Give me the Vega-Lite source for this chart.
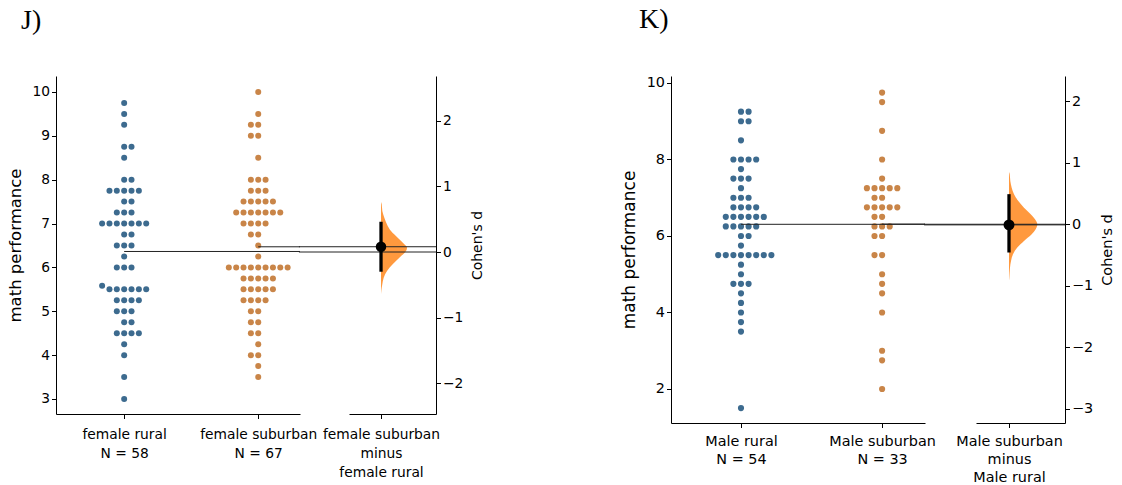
{
  "$schema": "https://vega.github.io/schema/vega-lite/v6.json",
  "padding": {"left": 7, "top": 5, "right": 0, "bottom": 0},
  "background": "white",
  "config": {
    "font": "DejaVu Sans",
    "view": {"stroke": null},
    "axis": {"grid": false, "domainColor": "#000", "tickColor": "#000", "labelColor": "#000", "titleColor": "#000", "labelFont": "DejaVu Sans", "titleFont": "DejaVu Sans", "titleFontWeight": "normal", "labelFontSize": 13.8, "titleFontSize": 16.5, "tickSize": 4.5, "domainWidth": 1, "tickWidth": 1},
    "title": {"font": "Liberation Serif", "fontSize": 28, "fontWeight": "normal", "anchor": "start", "frame": "group", "color": "#000"}
  },
  "datasets": {
    "jswarm": [
      {"g":"female rural","v":9.75},{"g":"female rural","v":9.5},{"g":"female rural","v":9.25},{"g":"female rural","v":8.75},{"g":"female rural","v":8.75},{"g":"female rural","v":8.5},{"g":"female rural","v":8},{"g":"female rural","v":8},
      {"g":"female rural","v":7.75},{"g":"female rural","v":7.75},{"g":"female rural","v":7.75},{"g":"female rural","v":7.75},{"g":"female rural","v":7.75},
      {"g":"female rural","v":7.5},{"g":"female rural","v":7.5},{"g":"female rural","v":7.25},{"g":"female rural","v":7.25},{"g":"female rural","v":7.25},
      {"g":"female rural","v":7},{"g":"female rural","v":7},{"g":"female rural","v":7},{"g":"female rural","v":7},{"g":"female rural","v":7},{"g":"female rural","v":7},{"g":"female rural","v":7},
      {"g":"female rural","v":6.75},{"g":"female rural","v":6.75},{"g":"female rural","v":6.5},{"g":"female rural","v":6.5},{"g":"female rural","v":6.5},{"g":"female rural","v":6.25},
      {"g":"female rural","v":6},{"g":"female rural","v":6},{"g":"female rural","v":6},{"g":"female rural","v":5.58},
      {"g":"female rural","v":5.5},{"g":"female rural","v":5.5},{"g":"female rural","v":5.5},{"g":"female rural","v":5.5},{"g":"female rural","v":5.5},{"g":"female rural","v":5.5},
      {"g":"female rural","v":5.25},{"g":"female rural","v":5.25},{"g":"female rural","v":5.25},{"g":"female rural","v":5.25},
      {"g":"female rural","v":5},{"g":"female rural","v":5},{"g":"female rural","v":5},{"g":"female rural","v":4.75},{"g":"female rural","v":4.75},
      {"g":"female rural","v":4.5},{"g":"female rural","v":4.5},{"g":"female rural","v":4.5},{"g":"female rural","v":4.5},
      {"g":"female rural","v":4.25},{"g":"female rural","v":4},{"g":"female rural","v":3.5},{"g":"female rural","v":3},
      {"g":"female suburban","v":10},{"g":"female suburban","v":9.5},{"g":"female suburban","v":9.25},{"g":"female suburban","v":9.25},{"g":"female suburban","v":9},{"g":"female suburban","v":9},{"g":"female suburban","v":8.5},
      {"g":"female suburban","v":8},{"g":"female suburban","v":8},{"g":"female suburban","v":8},{"g":"female suburban","v":7.75},{"g":"female suburban","v":7.75},{"g":"female suburban","v":7.75},
      {"g":"female suburban","v":7.5},{"g":"female suburban","v":7.5},{"g":"female suburban","v":7.5},{"g":"female suburban","v":7.5},{"g":"female suburban","v":7.5},
      {"g":"female suburban","v":7.25},{"g":"female suburban","v":7.25},{"g":"female suburban","v":7.25},{"g":"female suburban","v":7.25},{"g":"female suburban","v":7.25},{"g":"female suburban","v":7.25},{"g":"female suburban","v":7.25},
      {"g":"female suburban","v":7},{"g":"female suburban","v":7},{"g":"female suburban","v":7},{"g":"female suburban","v":7},
      {"g":"female suburban","v":6.75},{"g":"female suburban","v":6.75},{"g":"female suburban","v":6.5},{"g":"female suburban","v":6.25},
      {"g":"female suburban","v":6},{"g":"female suburban","v":6},{"g":"female suburban","v":6},{"g":"female suburban","v":6},{"g":"female suburban","v":6},{"g":"female suburban","v":6},{"g":"female suburban","v":6},{"g":"female suburban","v":6},{"g":"female suburban","v":6},
      {"g":"female suburban","v":5.75},{"g":"female suburban","v":5.75},{"g":"female suburban","v":5.75},{"g":"female suburban","v":5.75},{"g":"female suburban","v":5.75},
      {"g":"female suburban","v":5.5},{"g":"female suburban","v":5.5},{"g":"female suburban","v":5.5},{"g":"female suburban","v":5.5},{"g":"female suburban","v":5.5},
      {"g":"female suburban","v":5.25},{"g":"female suburban","v":5.25},{"g":"female suburban","v":5.25},{"g":"female suburban","v":5.25},
      {"g":"female suburban","v":5},{"g":"female suburban","v":5},{"g":"female suburban","v":4.75},{"g":"female suburban","v":4.75},{"g":"female suburban","v":4.5},{"g":"female suburban","v":4.5},
      {"g":"female suburban","v":4.25},{"g":"female suburban","v":4},{"g":"female suburban","v":4},{"g":"female suburban","v":3.75},{"g":"female suburban","v":3.5}
    ],
    "kswarm": [
      {"g":"Male rural","v":9.25},{"g":"Male rural","v":9.25},{"g":"Male rural","v":9},{"g":"Male rural","v":9},{"g":"Male rural","v":8.5},
      {"g":"Male rural","v":8},{"g":"Male rural","v":8},{"g":"Male rural","v":8},{"g":"Male rural","v":8},{"g":"Male rural","v":7.75},
      {"g":"Male rural","v":7.5},{"g":"Male rural","v":7.5},{"g":"Male rural","v":7.5},{"g":"Male rural","v":7.25},
      {"g":"Male rural","v":7},{"g":"Male rural","v":7},{"g":"Male rural","v":7},
      {"g":"Male rural","v":6.75},{"g":"Male rural","v":6.75},{"g":"Male rural","v":6.75},{"g":"Male rural","v":6.75},
      {"g":"Male rural","v":6.5},{"g":"Male rural","v":6.5},{"g":"Male rural","v":6.5},{"g":"Male rural","v":6.5},{"g":"Male rural","v":6.5},{"g":"Male rural","v":6.5},
      {"g":"Male rural","v":6.25},{"g":"Male rural","v":6.25},{"g":"Male rural","v":6.25},{"g":"Male rural","v":6.25},{"g":"Male rural","v":6.25},
      {"g":"Male rural","v":6},{"g":"Male rural","v":6},{"g":"Male rural","v":5.75},
      {"g":"Male rural","v":5.5},{"g":"Male rural","v":5.5},{"g":"Male rural","v":5.5},{"g":"Male rural","v":5.5},{"g":"Male rural","v":5.5},{"g":"Male rural","v":5.5},{"g":"Male rural","v":5.5},{"g":"Male rural","v":5.5},
      {"g":"Male rural","v":5.25},{"g":"Male rural","v":5},{"g":"Male rural","v":4.75},{"g":"Male rural","v":4.75},{"g":"Male rural","v":4.75},
      {"g":"Male rural","v":4.5},{"g":"Male rural","v":4.25},{"g":"Male rural","v":4},{"g":"Male rural","v":3.75},{"g":"Male rural","v":3.5},{"g":"Male rural","v":1.5},
      {"g":"Male suburban","v":9.75},{"g":"Male suburban","v":9.5},{"g":"Male suburban","v":8.75},{"g":"Male suburban","v":8},{"g":"Male suburban","v":7.5},
      {"g":"Male suburban","v":7.25},{"g":"Male suburban","v":7.25},{"g":"Male suburban","v":7.25},{"g":"Male suburban","v":7.25},{"g":"Male suburban","v":7.25},
      {"g":"Male suburban","v":7},{"g":"Male suburban","v":7},
      {"g":"Male suburban","v":6.75},{"g":"Male suburban","v":6.75},{"g":"Male suburban","v":6.75},{"g":"Male suburban","v":6.75},{"g":"Male suburban","v":6.75},
      {"g":"Male suburban","v":6.5},{"g":"Male suburban","v":6.5},{"g":"Male suburban","v":6.25},{"g":"Male suburban","v":6.25},{"g":"Male suburban","v":6.25},
      {"g":"Male suburban","v":6},{"g":"Male suburban","v":6},{"g":"Male suburban","v":5.5},{"g":"Male suburban","v":5.5},
      {"g":"Male suburban","v":5},{"g":"Male suburban","v":4.75},{"g":"Male suburban","v":4.5},{"g":"Male suburban","v":4},{"g":"Male suburban","v":3},{"g":"Male suburban","v":2.75},{"g":"Male suburban","v":2}
    ],
    "jviolin": [
      {"d":0.76,"w":0},{"d":0.725,"w":0.025},{"d":0.624,"w":0.046},{"d":0.522,"w":0.117},{"d":0.42,"w":0.212},{"d":0.32,"w":0.353},{"d":0.218,"w":0.59},{"d":0.117,"w":0.823},{"d":0.066,"w":0.919},{"d":0.015,"w":0.883},{"d":-0.087,"w":0.647},{"d":-0.187,"w":0.413},{"d":-0.289,"w":0.212},{"d":-0.39,"w":0.095},{"d":-0.49,"w":0.046},{"d":-0.59,"w":0.011},{"d":-0.64,"w":0}
    ],
    "kviolin": [
      {"d":0.85,"w":0},{"d":0.814,"w":0.025},{"d":0.705,"w":0.046},{"d":0.596,"w":0.095},{"d":0.489,"w":0.177},{"d":0.379,"w":0.329},{"d":0.27,"w":0.53},{"d":0.163,"w":0.767},{"d":0.081,"w":0.919},{"d":0,"w":1},{"d":-0.081,"w":0.943},{"d":-0.163,"w":0.802},{"d":-0.272,"w":0.53},{"d":-0.38,"w":0.293},{"d":-0.489,"w":0.141},{"d":-0.598,"w":0.071},{"d":-0.707,"w":0.035},{"d":-0.87,"w":0.011},{"d":-0.92,"w":0}
    ],
    "jeffect": [{"d":0.08,"lo":-0.3,"hi":0.46}],
    "keffect": [{"d":-0.01,"lo":-0.46,"hi":0.49}]
  },
  "hconcat": [
    {
      "title": {"text": "J)", "dx": -35, "offset": 41},
      "spacing": 49,
      "bounds": "flush",
      "hconcat": [
        {
          "width": 244, "height": 338,
          "data": {"name": "jswarm"},
          "transform": [
            {"bin": {"step": 0.25, "extent": [0, 11]}, "field": "v", "as": "vb"},
            {"window": [{"op": "row_number", "as": "rn"}], "groupby": ["g", "vb"], "sort": [{"field": "v", "order": "ascending"}]}
          ],
          "encoding": {
            "x": {"field": "g", "type": "nominal", "scale": {"type": "point", "domain": ["female rural", "female suburban"], "padding": 0.41, "align": 0.62},
                  "axis": {"title": null, "labelAngle": 0, "labelLineHeight": 19, "labelPadding": 9, "labelExpr": "datum.value == 'female rural' ? ['female rural', 'N = 58'] : ['female suburban', 'N = 67']"}},
            "y": {"field": "v", "type": "quantitative", "scale": {"domain": [2.658, 10.364], "nice": false, "zero": false},
                  "axis": {"title": "math performance", "values": [3,4,5,6,7,8,9,10], "titlePadding": 8}}
          },
          "layer": [
            {"transform": [{"filter": "datum.g == 'female rural'"}], "mark": {"type": "circle", "size": 36, "opacity": 1},
             "encoding": {"xOffset": {"field": "rn", "type": "ordinal", "scale": {"type": "point", "domain": [9,7,5,3,1,2,4,6,8], "range": [-29.4, 29.4], "padding": 0}}, "color": {"value": "#3d6b8f"}}},
            {"transform": [{"filter": "datum.g == 'female suburban'"}], "mark": {"type": "circle", "size": 36, "opacity": 1},
             "encoding": {"xOffset": {"field": "rn", "type": "ordinal", "scale": {"type": "point", "domain": [8,6,4,2,1,3,5,7,9], "range": [-29.4, 29.4], "padding": 0}}, "color": {"value": "#c98548"}}},
            {"transform": [{"aggregate": [{"op": "mean", "field": "v", "as": "v"}], "groupby": ["g"]}], "mark": {"type": "rule", "color": "#222", "strokeWidth": 1},
             "encoding": {"x2": {"value": "width"}}}
          ],
          "resolve": {"scale": {"xOffset": "independent"}}
        },
        {
          "width": 87, "height": 338,
          "layer": [
            {"data": {"name": "jviolin"}, "mark": {"type": "area", "orient": "horizontal", "color": "#ff7f0e", "opacity": 0.8, "interpolate": "monotone"},
             "encoding": {
               "y": {"field": "d", "type": "quantitative", "scale": {"domain": [-2.464, 2.677], "nice": false, "zero": false},
                     "axis": {"orient": "right", "title": "Cohen's d", "format": "d", "titleFontSize": 14, "values": [-2,-1,0,1,2], "titleAngle": 270, "titleBaseline": "top", "titlePadding": 8}},
               "x": {"field": "w", "type": "quantitative", "scale": {"domain": [-1.131, 1.943], "nice": false, "zero": false},
                     "axis": {"title": null, "values": [0], "labelPadding": 9, "labelLineHeight": 19, "labelExpr": "['female suburban', 'minus', 'female rural']"}},
               "x2": {"datum": 0}
             }},
            {"data": {"name": "jeffect"}, "mark": {"type": "rule", "color": "#222", "strokeWidth": 1},
             "encoding": {"y": {"datum": 0}, "x": {"datum": -2.9}, "x2": {"value": "width"}}},
            {"data": {"name": "jeffect"}, "mark": {"type": "rule", "color": "#222", "strokeWidth": 1},
             "encoding": {"y": {"field": "d", "type": "quantitative"}, "x": {"datum": -2.9}, "x2": {"value": "width"}}},
            {"data": {"name": "jeffect"}, "mark": {"type": "rule", "color": "#000", "strokeWidth": 3.3},
             "encoding": {"x": {"datum": 0}, "y": {"field": "lo", "type": "quantitative"}, "y2": {"field": "hi"}}},
            {"data": {"name": "jeffect"}, "mark": {"type": "circle", "size": 110, "opacity": 1, "color": "#000"},
             "encoding": {"x": {"datum": 0}, "y": {"field": "d", "type": "quantitative"}}}
          ]
        }
      ]
    },
    {
      "title": {"text": "K)", "dx": -32, "offset": 41},
      "spacing": 51,
      "bounds": "flush",
      "hconcat": [
        {
          "width": 254, "height": 347,
          "data": {"name": "kswarm"},
          "transform": [
            {"bin": {"step": 0.25, "extent": [0, 11]}, "field": "v", "as": "vb"},
            {"window": [{"op": "row_number", "as": "rn"}], "groupby": ["g", "vb"], "sort": [{"field": "v", "order": "ascending"}]}
          ],
          "encoding": {
            "x": {"field": "g", "type": "nominal", "scale": {"type": "point", "domain": ["Male rural", "Male suburban"], "padding": 0.4, "align": 0.62},
                  "axis": {"title": null, "labelAngle": 0, "labelFontSize": 14.4, "labelLineHeight": 18, "labelPadding": 7, "labelExpr": "datum.value == 'Male rural' ? ['Male rural', 'N = 54'] : ['Male suburban', 'N = 33']"}},
            "y": {"field": "v", "type": "quantitative", "scale": {"domain": [1.111, 10.183], "nice": false, "zero": false},
                  "axis": {"title": "math performance", "labelFontSize": 14.4, "titleFontSize": 17, "values": [2,4,6,8,10], "titlePadding": 8}}
          },
          "layer": [
            {"transform": [{"filter": "datum.g == 'Male rural'"}], "mark": {"type": "circle", "size": 38, "opacity": 1},
             "encoding": {"xOffset": {"field": "rn", "type": "ordinal", "scale": {"type": "point", "domain": [9,7,5,3,1,2,4,6,8], "range": [-30.4, 30.4], "padding": 0}}, "color": {"value": "#3d6b8f"}}},
            {"transform": [{"filter": "datum.g == 'Male suburban'"}], "mark": {"type": "circle", "size": 38, "opacity": 1},
             "encoding": {"xOffset": {"field": "rn", "type": "ordinal", "scale": {"type": "point", "domain": [8,6,4,2,1,3,5,7,9], "range": [-30.4, 30.4], "padding": 0}}, "color": {"value": "#c98548"}}},
            {"transform": [{"aggregate": [{"op": "mean", "field": "v", "as": "v"}], "groupby": ["g"]}], "mark": {"type": "rule", "color": "#222", "strokeWidth": 1},
             "encoding": {"x2": {"value": "width"}}}
          ],
          "resolve": {"scale": {"xOffset": "independent"}}
        },
        {
          "width": 89, "height": 347,
          "layer": [
            {"data": {"name": "kviolin"}, "mark": {"type": "area", "orient": "horizontal", "color": "#ff7f0e", "opacity": 0.8, "interpolate": "monotone"},
             "encoding": {
               "y": {"field": "d", "type": "quantitative", "scale": {"domain": [-3.236, 2.414], "nice": false, "zero": false},
                     "axis": {"orient": "right", "title": "Cohen's d", "format": "d", "labelFontSize": 14.4, "titleFontSize": 14.5, "values": [-3,-2,-1,0,1,2], "titleAngle": 270, "titleBaseline": "top", "titlePadding": 8}},
               "x": {"field": "w", "type": "quantitative", "scale": {"domain": [-1.166, 1.979], "nice": false, "zero": false},
                     "axis": {"title": null, "values": [0], "labelFontSize": 14.4, "labelPadding": 7, "labelLineHeight": 18, "labelExpr": "['Male suburban', 'minus', 'Male rural']"}},
               "x2": {"datum": 0}
             }},
            {"data": {"name": "keffect"}, "mark": {"type": "rule", "color": "#222", "strokeWidth": 1},
             "encoding": {"y": {"datum": 0}, "x": {"datum": -3.0}, "x2": {"value": "width"}}},
            {"data": {"name": "keffect"}, "mark": {"type": "rule", "color": "#222", "strokeWidth": 1},
             "encoding": {"y": {"field": "d", "type": "quantitative"}, "x": {"datum": -3.0}, "x2": {"value": "width"}}},
            {"data": {"name": "keffect"}, "mark": {"type": "rule", "color": "#000", "strokeWidth": 3.3},
             "encoding": {"x": {"datum": 0}, "y": {"field": "lo", "type": "quantitative"}, "y2": {"field": "hi"}}},
            {"data": {"name": "keffect"}, "mark": {"type": "circle", "size": 120, "opacity": 1, "color": "#000"},
             "encoding": {"x": {"datum": 0}, "y": {"field": "d", "type": "quantitative"}}}
          ]
        }
      ]
    }
  ],
  "spacing": 615,
  "bounds": "flush"
}
